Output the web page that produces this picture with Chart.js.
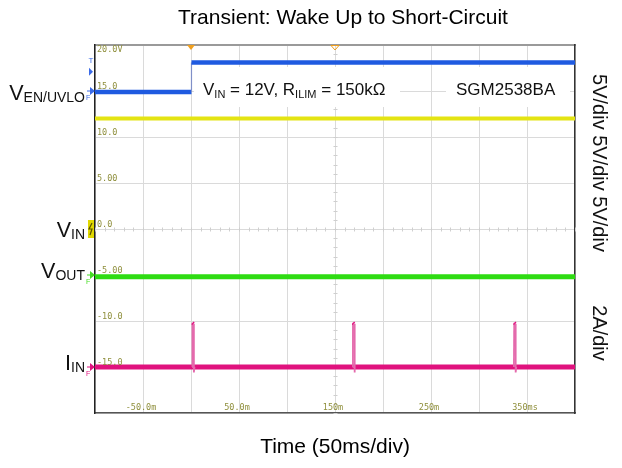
<!DOCTYPE html>
<html><head><meta charset="utf-8">
<script src="https://cdn.jsdelivr.net/npm/chart.js@4/dist/chart.umd.min.js"></script>
<style>html,body{margin:0;padding:0;background:#fff;}#wrap{width:622px;height:468px;position:relative}canvas{display:block}</style>
</head><body><div id="wrap"><canvas id="c" width="622" height="468" style="width:622px;height:468px"></canvas></div>
<script>
// Time in ms, vertical values in scope screen units (5 units per division)
const venTime  = [-100, 0.5, 0.5, 400];
const venLevel = [14.9, 14.9, 18.1, 18.1];
const vinTime  = [-100, 400];
const vinLevel = [12.0, 12.0];
const voutTime  = [-100, 400];
const voutLevel = [-5.2, -5.2];
const iinTime  = [-100, 400];
const iinLevel = [-15.0, -15.0];
const iinSpikeTime  = [1.2, 1.5, 2.7, 3.0, 3.6, 3.7, 168.4, 168.7, 169.9, 170.2, 170.8, 170.9, 336.4, 336.7, 337.9, 338.2, 338.8];
const iinSpikeLevel = [-15.0, -10.2, -10.3, -15.6, -15.0, null, -15.0, -10.2, -10.3, -15.6, -15.0, null, -15.0, -10.2, -10.3, -15.6, -15.0];
const xTickValues = [-50, 50, 150, 250, 350];
const xTickLabels = ['-50.0m', '50.0m', '150m', '250m', '350ms'];
const yTickValues = [20, 15, 10, 5, 0, -5, -10, -15];
const yTickLabels = ['20.0V', '15.0', '10.0', '5.00', '0.0', '-5.00', '-10.0', '-15.0'];
const titleText = 'Transient: Wake Up to Short-Circuit';
const xTitleText = 'Time (50ms/div)';

const pts = (xs, ys) => xs.map((t, i) => ({x: t, y: ys[i]}));
const FONT = "'Liberation Sans', Arial, sans-serif";

function drawRich(ctx, parts, x, base, align, mainSize, subSize, subDrop) {
  let w = 0;
  parts.forEach(([t, sub]) => { ctx.font = (sub ? subSize : mainSize) + 'px ' + FONT; w += ctx.measureText(t).width; });
  let cx = align === 'right' ? x - w : x;
  ctx.textAlign = 'left'; ctx.textBaseline = 'alphabetic';
  parts.forEach(([t, sub]) => {
    ctx.font = (sub ? subSize : mainSize) + 'px ' + FONT;
    ctx.fillText(t, cx, base + (sub ? subDrop : 0));
    cx += ctx.measureText(t).width;
  });
}

function arrowMarker(ctx, px, py, color, withF) {
  ctx.save();
  ctx.strokeStyle = color; ctx.fillStyle = color; ctx.lineWidth = 1;
  ctx.beginPath(); ctx.moveTo(px - 8, py); ctx.lineTo(px - 2, py); ctx.stroke();
  ctx.beginPath(); ctx.moveTo(px - 5, py - 4); ctx.lineTo(px, py); ctx.lineTo(px - 5, py + 4); ctx.closePath(); ctx.fill();
  if (withF) { ctx.font = '7px ' + FONT; ctx.textAlign = 'left'; ctx.textBaseline = 'top'; ctx.fillText('F', px - 9, py + 4); }
  ctx.restore();
}

const annot = {
  id: 'annot',
  beforeDatasetsDraw(chart) {
    const {ctx, chartArea: a, scales: {x, y}} = chart;
    ctx.save();
    // minor ticks on centre lines
    ctx.strokeStyle = '#cfcfcf'; ctx.lineWidth = 1;
    const y0 = Math.round(y.getPixelForValue(0)) + 0.5;
    for (let t = -100; t <= 400; t += 10) {
      const px = Math.round(x.getPixelForValue(t)) + 0.5;
      ctx.beginPath(); ctx.moveTo(px, y0 - 2); ctx.lineTo(px, y0 + 2); ctx.stroke();
    }
    const xc = Math.round(x.getPixelForValue(150)) + 0.5;
    for (let v = -20; v <= 20; v += 1) {
      const py = Math.round(y.getPixelForValue(v)) + 0.5;
      ctx.beginPath(); ctx.moveTo(xc - 2, py); ctx.lineTo(xc + 2, py); ctx.stroke();
    }
    // white backgrounds behind notes
    ctx.fillStyle = '#fff';
    ctx.fillRect(194, 67, 206, 40);
    ctx.fillRect(446, 67, 124, 40);
    ctx.restore();
  },
  afterDatasetsDraw(chart) {
    const {ctx, chartArea: a, scales: {x, y}} = chart;
    ctx.save();
    // scope scale labels
    ctx.fillStyle = '#8f8f3c';
    ctx.font = "8.5px 'DejaVu Sans Mono', monospace";
    ctx.textAlign = 'left';
    yTickValues.forEach((v, i) => {
      const py = y.getPixelForValue(v);
      if (i === 0) { ctx.textBaseline = 'top'; ctx.fillText(yTickLabels[i], a.left + 2, py + 1); }
      else { ctx.textBaseline = 'bottom'; ctx.fillText(yTickLabels[i], a.left + 2, py); }
    });
    ctx.textAlign = 'center'; ctx.textBaseline = 'bottom';
    xTickValues.forEach((t, i) => ctx.fillText(xTickLabels[i], x.getPixelForValue(t) - 2, a.bottom - 1));

    // trigger markers at top
    ctx.fillStyle = '#f0a020'; ctx.strokeStyle = '#f0a020'; ctx.lineWidth = 1;
    let tx = x.getPixelForValue(0);
    ctx.beginPath(); ctx.moveTo(tx - 4, a.top); ctx.lineTo(tx + 4, a.top); ctx.lineTo(tx, a.top + 5); ctx.closePath(); ctx.fill();
    tx = x.getPixelForValue(150);
    ctx.beginPath(); ctx.moveTo(tx - 4, a.top + 0.5); ctx.lineTo(tx + 4, a.top + 0.5); ctx.lineTo(tx, a.top + 5); ctx.closePath(); ctx.stroke();

    // channel markers at left edge
    ctx.fillStyle = '#3a6ae8'; ctx.font = '8px ' + FONT; ctx.textAlign = 'center'; ctx.textBaseline = 'middle';
    ctx.fillText('T', a.left - 4, y.getPixelForValue(18.3));
    ctx.beginPath();
    let ty = y.getPixelForValue(17.1);
    ctx.moveTo(a.left - 6, ty - 4); ctx.lineTo(a.left - 2, ty); ctx.lineTo(a.left - 6, ty + 4); ctx.closePath(); ctx.fill();
    arrowMarker(ctx, a.left, y.getPixelForValue(15), '#3a6ae8', true);
    arrowMarker(ctx, a.left, y.getPixelForValue(-5), '#44dd22', true);
    arrowMarker(ctx, a.left, y.getPixelForValue(-15), '#e0127e', true);
    // yellow ground box
    const gy = y.getPixelForValue(0);
    ctx.fillStyle = '#e0d800'; ctx.fillRect(a.left - 7, gy - 9, 6, 18);
    ctx.strokeStyle = '#5a5200'; ctx.lineWidth = 1.2;
    ctx.beginPath(); ctx.moveTo(a.left - 3, gy - 6); ctx.lineTo(a.left - 6, gy); ctx.lineTo(a.left - 3, gy); ctx.lineTo(a.left - 5, gy + 6); ctx.stroke();

    // notes
    ctx.fillStyle = '#111';
    drawRich(ctx, [['V', false], ['IN', true], [' = 12V, R', false], ['ILIM', true], [' = 150k\u03A9', false]], 203, 95, 'left', 17, 11, 3);
    drawRich(ctx, [['SGM2538BA', false]], 456, 95, 'left', 17, 11, 3);

    // left channel labels
    drawRich(ctx, [['V', false], ['EN/UVLO', true]], 85, 100, 'right', 21.5, 14, 2);
    drawRich(ctx, [['V', false], ['IN', true]], 85, 237, 'right', 21.5, 14, 2);
    drawRich(ctx, [['V', false], ['OUT', true]], 85, 278, 'right', 21.5, 14, 2);
    drawRich(ctx, [['I', false], ['IN', true]], 85, 370, 'right', 21.5, 14, 2);

    // right rotated scale labels
    ctx.font = '20px ' + FONT; ctx.textAlign = 'center'; ctx.textBaseline = 'middle';
    ctx.save(); ctx.translate(599, 163); ctx.rotate(Math.PI / 2); ctx.fillText('5V/div 5V/div 5V/div', 0, 0); ctx.restore();
    ctx.save(); ctx.translate(599, 333); ctx.rotate(Math.PI / 2); ctx.fillText('2A/div', 0, 0); ctx.restore();
    ctx.restore();
  }
};

const edgeSeg = (w, c) => ({
  borderWidth: ctx => ctx.p0.parsed.x === ctx.p1.parsed.x ? 1.2 : w,
  borderColor: ctx => ctx.p0.parsed.x === ctx.p1.parsed.x ? '#8090c8' : c
});
const spikeSeg = {
  borderWidth: ctx => (ctx.p0.parsed.y > -11 && ctx.p1.parsed.y > -11) ? 3.5 : 1.8,
  borderColor: ctx => (ctx.p0.parsed.y > -11 && ctx.p1.parsed.y > -11) ? '#e0127e' : '#e46aac'
};

new Chart(document.getElementById('c'), {
  type: 'line',
  data: {
    datasets: [
      {label: 'VIN', data: pts(vinTime, vinLevel), borderColor: '#e4e412', borderWidth: 4},
      {label: 'VOUT', data: pts(voutTime, voutLevel), borderColor: '#2edc12', borderWidth: 5},
      {label: 'IIN spikes', data: pts(iinSpikeTime, iinSpikeLevel), borderColor: '#e46aac', borderWidth: 1.8, spanGaps: false, segment: spikeSeg},
      {label: 'IIN', data: pts(iinTime, iinLevel), borderColor: '#e0127e', borderWidth: 5},
      {label: 'VEN/UVLO', data: pts(venTime, venLevel), borderColor: '#1f5ae0', borderWidth: 4.5, segment: edgeSeg(4.5, '#1f5ae0')}
    ]
  },
  options: {
    responsive: false,
    maintainAspectRatio: false,
    animation: false,
    devicePixelRatio: 1,
    elements: {point: {radius: 0}, line: {tension: 0, fill: false, borderCapStyle: 'butt'}},
    layout: {padding: {left: 64, right: 0, top: 0, bottom: 0}},
    plugins: {
      legend: {display: false},
      tooltip: {enabled: false},
      title: {display: true, text: titleText, color: '#000', font: {family: FONT, size: 21, weight: 'normal'}, padding: {top: 5.4, bottom: 14.4}}
    },
    scales: {
      x: {
        type: 'linear', position: 'bottom', min: -100, max: 400,
        ticks: {display: false, stepSize: 50},
        grid: {color: '#dadada', lineWidth: 1, drawTicks: false},
        border: {display: true, color: '#555', width: 1.5},
        title: {display: true, text: xTitleText, color: '#000', font: {family: FONT, size: 21, weight: 'normal'}, padding: {top: 0, bottom: 8.4}},
        afterFit: s => { s.height = 55; }
      },
      x2: {
        type: 'linear', position: 'top', min: -100, max: 400,
        ticks: {display: false}, grid: {display: false, drawTicks: false},
        border: {display: true, color: '#9a9a9a', width: 2},
        afterFit: s => { s.height = 0; }
      },
      y: {
        type: 'linear', position: 'left', min: -20, max: 20,
        ticks: {display: false, stepSize: 5},
        grid: {color: '#dadada', lineWidth: 1, drawTicks: false},
        border: {display: true, color: '#222', width: 1.5},
        afterFit: s => { s.width = 31; }
      },
      y2: {
        type: 'linear', position: 'right', min: -20, max: 20,
        ticks: {display: false}, grid: {display: false, drawTicks: false},
        border: {display: true, color: '#333', width: 1.5},
        afterFit: s => { s.width = 47; }
      }
    }
  },
  plugins: [annot]
});
</script></body></html>
